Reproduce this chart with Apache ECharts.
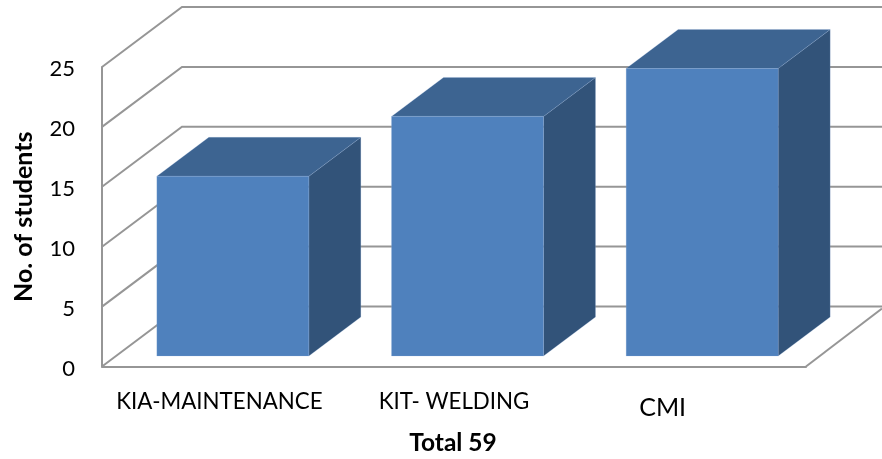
<!DOCTYPE html>
<html>
<head>
<meta charset="utf-8">
<style>html,body{margin:0;padding:0;background:#fff}#c{width:882px;height:459px}</style>
<script src="https://cdn.jsdelivr.net/npm/echarts@6/dist/echarts.min.js"></script>
</head>
<body>
<div id="c"></div>
<script>
const categories = ['KIA-MAINTENANCE', 'KIT- WELDING', 'CMI'];
const students = [15, 20, 24];
const yTicks = [0, 5, 10, 15, 20, 25];
const yAxisTitle = 'No. of students';
const xAxisTitle = 'Total 59';

const chart = echarts.init(document.getElementById('c'), null, {renderer: 'canvas'});
const GRID = '#969696';
const WALL_DX = 80, WALL_DY = -60;      // oblique projection of the chart's floor
const BAR_DX = 52, BAR_DY = -39;        // oblique depth of each column
const BAR_SHIFT_X = 13.5, BAR_SHIFT_Y = -10.5; // columns stand inside the floor
const BAR_W = 152;

function renderWall(params, api) {
  const p = api.coord([0, api.value(1)]);
  const cs = params.coordSys;
  const x0 = cs.x, y0 = p[1];
  const style = {stroke: GRID, fill: null, lineWidth: 2};
  const children = [{
    type: 'polyline',
    shape: {points: [[x0, y0], [x0 + WALL_DX, y0 + WALL_DY], [cs.x + cs.width + WALL_DX, y0 + WALL_DY]]},
    style
  }];
  if (api.value(1) === 0) {
    children.push({
      type: 'line',
      shape: {x1: cs.x + cs.width, y1: y0, x2: cs.x + cs.width + 76, y2: y0 - 58},
      style
    });
  }
  return {type: 'group', children};
}

function renderBar(params, api) {
  const top = api.coord([api.value(0), api.value(1)]);
  const base = api.coord([api.value(0), 0]);
  const xl = top[0] - BAR_W / 2 + BAR_SHIFT_X, xr = xl + BAR_W;
  const yt = top[1] + BAR_SHIFT_Y, yb = base[1] + BAR_SHIFT_Y;
  const edge = 'rgba(150,180,220,0.35)';
  return {type: 'group', children: [
    {type: 'polygon', shape: {points: [[xr, yt], [xr + BAR_DX, yt + BAR_DY], [xr + BAR_DX, yb + BAR_DY], [xr, yb]]},
     style: {fill: '#325379', stroke: edge, lineWidth: 0.6}},
    {type: 'polygon', shape: {points: [[xl, yt], [xl + BAR_DX, yt + BAR_DY], [xr + BAR_DX, yt + BAR_DY], [xr, yt]]},
     style: {fill: '#3d6491', stroke: edge, lineWidth: 0.6}},
    {type: 'rect', shape: {x: xl, y: yt, width: BAR_W, height: yb - yt},
     style: {fill: '#4f81bd', stroke: edge, lineWidth: 0.6}}
  ]};
}

chart.setOption({
  animation: false,
  backgroundColor: '#ffffff',
  textStyle: {fontFamily: 'Lato', color: '#000'},
  grid: {left: 102, top: 67, width: 704, height: 299.5, containLabel: false, outerBoundsMode: 'none'},
  xAxis: {
    type: 'category',
    data: categories,
    axisLine: {show: true, lineStyle: {color: GRID, width: 2}},
    axisTick: {show: false},
    axisLabel: {
      color: '#000', fontFamily: 'Lato', fontSize: 22.3, margin: 24,
      interval: 0,
      formatter: v => v === 'CMI' ? '{big|' + v + '}' : v,
      rich: {big: {fontSize: 25, color: '#000', fontFamily: 'Lato', padding: [5, 52, 0, 0]}}
    },
    name: xAxisTitle,
    nameLocation: 'middle',
    nameGap: 64,
    nameTextStyle: {color: '#000', fontFamily: 'Lato', fontWeight: 'bold', fontSize: 24.5, padding: [0, 2, 0, 0]}
  },
  yAxis: {
    type: 'value',
    min: 0, max: 25, interval: 5,
    splitLine: {show: false},
    axisLine: {show: true, lineStyle: {color: GRID, width: 2}},
    axisTick: {show: false},
    axisLabel: {
      color: '#000', fontFamily: 'Lato', fontSize: 22, margin: 27,
      formatter: v => '{t|' + v + '}',
      rich: {t: {fontSize: 22, color: '#000', fontFamily: 'Lato', padding: [4, 0, 0, 0]}}
    },
    name: yAxisTitle,
    nameLocation: 'middle',
    nameGap: 66,
    nameRotate: 90,
    nameTextStyle: {color: '#000', fontFamily: 'Lato', fontWeight: 'bold', fontSize: 25}
  },
  series: [
    {type: 'custom', z: 1, clip: false, silent: true, renderItem: renderWall,
     encode: {x: 0, y: 1}, data: yTicks.map(v => [0, v])},
    {type: 'custom', z: 2, clip: false, renderItem: renderBar,
     encode: {x: 0, y: 1}, data: students.map((v, i) => [i, v])}
  ]
});
</script>
</body>
</html>
